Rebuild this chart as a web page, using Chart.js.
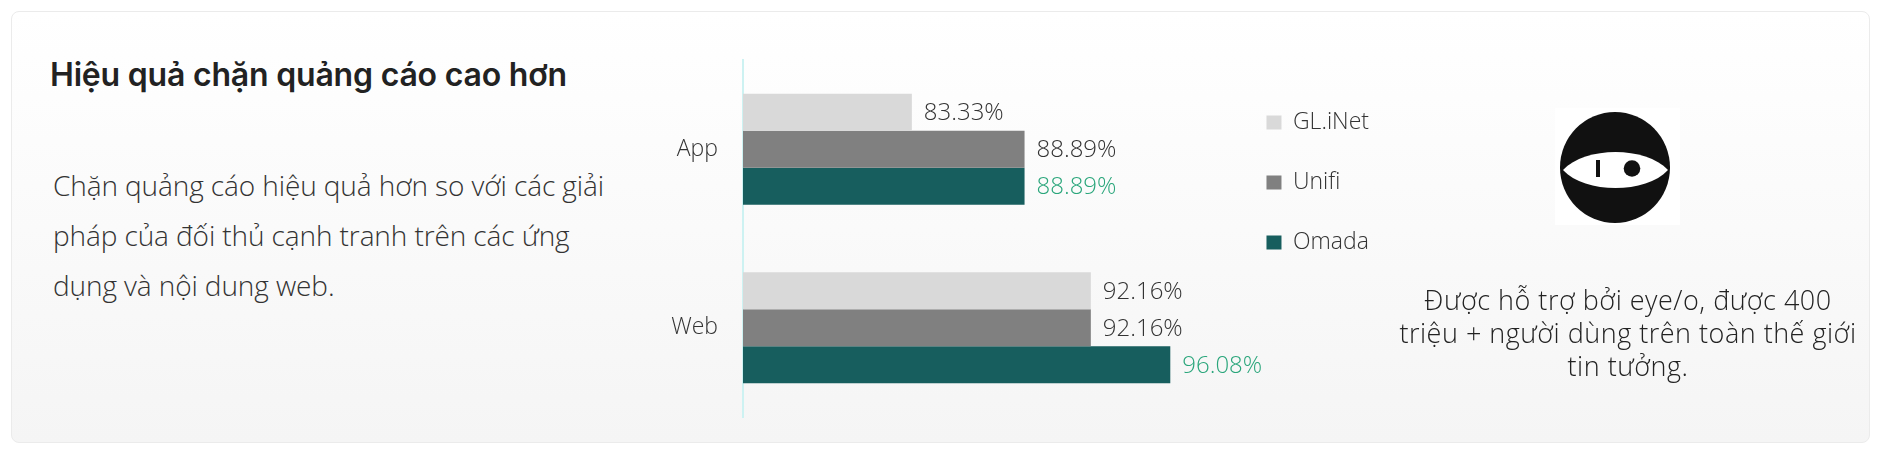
<!DOCTYPE html>
<html lang="vi">
<head>
<meta charset="utf-8">
<title>Hiệu quả chặn quảng cáo</title>
<script src="https://cdn.jsdelivr.net/npm/chart.js"></script>
<style>
  html, body { margin: 0; padding: 0; background: #fff; }
  body { width: 1885px; height: 458px; position: relative; overflow: hidden; font-family: 'Inter', 'Noto Sans', sans-serif; }
  .card {
    position: absolute; left: 11px; top: 11px; width: 1857px; height: 430px;
    border: 1px solid #ebebeb; border-radius: 8px;
    background: linear-gradient(180deg, #ffffff 0%, #f5f5f5 100%);
  }
  .title {
    position: absolute; left: 50px; top: 59px; margin: 0;
    font-size: 32px; line-height: 32px; font-weight: 600; color: #222; letter-spacing: -0.2px;
  }
  .desc {
    position: absolute; left: 53px; top: 160px; margin: 0;
    font-family: 'Open Sans', 'Inter', sans-serif;
    font-size: 28px; line-height: 50px; font-weight: 300; color: #333; letter-spacing: -0.1px;
  }
  .chart-box { position: absolute; left: 640px; top: 40px; width: 760px; height: 400px; }
  .logo { position: absolute; left: 1555px; top: 108px; width: 125px; height: 117px; background: #fff; }
  .side {
    position: absolute; left: 1390px; top: 283px; width: 476px; margin: 0; text-align: center;
    font-family: 'Open Sans', 'Inter', sans-serif;
    font-size: 27px; line-height: 33px; font-weight: 300; color: #222; letter-spacing: 0.5px;
  }
</style>
</head>
<body>
<div class="card"></div>
<h2 class="title">Hiệu quả chặn quảng cáo cao hơn</h2>
<p class="desc">Chặn quảng cáo hiệu quả hơn so với các giải<br>pháp của đối thủ cạnh tranh trên các ứng<br>dụng và nội dung web.</p>
<div class="chart-box"><canvas id="adblock-chart"></canvas></div>
<svg class="logo" viewBox="0 0 125 117">
  <ellipse cx="60" cy="59.5" rx="55" ry="55.5" fill="#111"/>
  <path d="M8 62 C30 38 91 38 113 62 C91 86 30 86 8 62 Z" fill="#fff"/>
  <rect x="41" y="52" width="4" height="17" fill="#111"/>
  <circle cx="77" cy="60.5" r="8.3" fill="#111"/>
</svg>
<p class="side">Được hỗ trợ bởi eye/o, được 400<br>triệu + người dùng trên toàn thế giới<br>tin tưởng.</p>

<script>
const categories = ['App', 'Web'];
const seriesNames = ['GL.iNet', 'Unifi', 'Omada'];
const glinetValues = [83.33, 92.16];
const unifiValues = [88.89, 92.16];
const omadaValues = [88.89, 96.08];

const barColors = ['#d9d9d9', '#808080', '#175e5e'];
const labelColors = ['#333333', '#333333', '#2aa67b'];
const lightFont = '"Open Sans", Inter, sans-serif';

// draws the percentage at the end of each bar
const barValueLabels = {
    id: 'barValueLabels',
    afterDatasetsDraw(chart) {
        const ctx = chart.ctx;
        ctx.save();
        ctx.font = '300 24px ' + lightFont;
        ctx.textAlign = 'left';
        ctx.textBaseline = 'middle';
        chart.data.datasets.forEach((ds, i) => {
            const meta = chart.getDatasetMeta(i);
            meta.data.forEach((bar, j) => {
                ctx.fillStyle = labelColors[i];
                ctx.fillText(ds.data[j].toFixed(2) + '%', bar.x + 12, bar.y + 1);
            });
        });
        ctx.restore();
    }
};

const adblockChart = new Chart(document.getElementById('adblock-chart'), {
    type: 'bar',
    data: {
        labels: categories,
        datasets: [
            { label: seriesNames[0], data: glinetValues, backgroundColor: barColors[0] },
            { label: seriesNames[1], data: unifiValues, backgroundColor: barColors[1] },
            { label: seriesNames[2], data: omadaValues, backgroundColor: barColors[2] }
        ]
    },
    options: {
        indexAxis: 'y',
        responsive: true,
        maintainAspectRatio: false,
        animation: false,
        datasets: {
            bar: { categoryPercentage: 0.622, barPercentage: 1, borderWidth: 0 }
        },
        layout: { padding: { top: 20, bottom: 23, left: 0, right: 21 } },
        scales: {
            x: { display: false, min: 75, max: 99 },
            y: {
                afterFit(scale) {
                    scale.width = 103;
                    scale.paddingTop = 0;
                    scale.paddingBottom = 0;
                },
                grid: { display: true, drawOnChartArea: false, drawTicks: false },
                border: { display: true, color: '#cdf2f2', width: 2 },
                ticks: {
                    padding: 25,
                    color: '#333',
                    font: { family: lightFont, size: 23, weight: '300' }
                }
            }
        },
        plugins: {
            tooltip: { enabled: false },
            legend: {
                position: 'right',
                align: 'start',
                title: { display: true, text: '', font: { size: 10, lineHeight: 1.4 }, padding: 0 },
                labels: {
                    boxWidth: 15,
                    boxHeight: 14,
                    padding: 37,
                    color: '#333',
                    font: { family: lightFont, size: 23, weight: '300' }
                }
            }
        }
    },
    plugins: [barValueLabels]
});
</script>
</body>
</html>
